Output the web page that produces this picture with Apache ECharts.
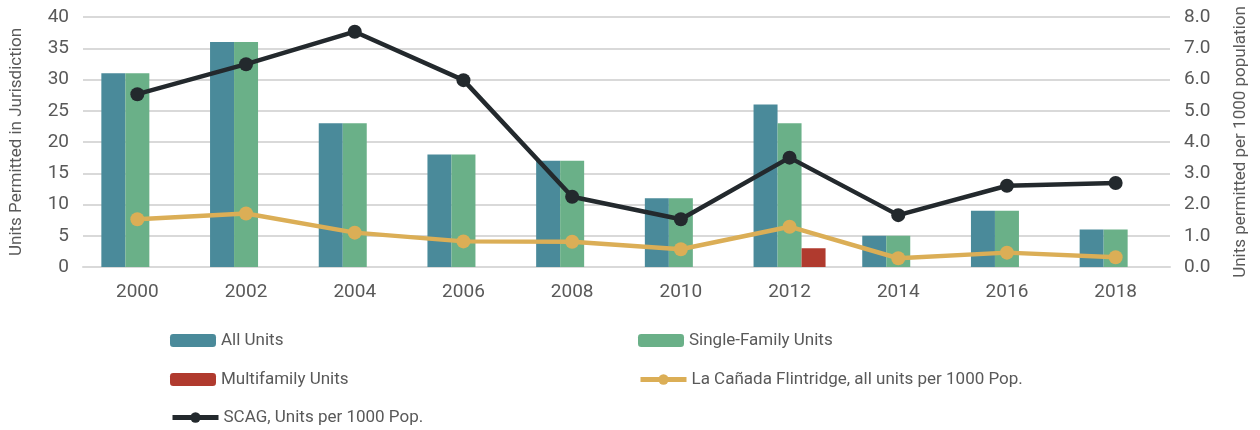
<!DOCTYPE html>
<html>
<head>
<meta charset="utf-8">
<script src="https://cdn.jsdelivr.net/npm/echarts@6/dist/echarts.min.js"></script>
<style>
  html, body { margin: 0; padding: 0; background: #fff; }
  #chart { width: 1260px; height: 430px; }
</style>
</head>
<body>
<div id="chart"></div>
<script>
var years = ['2000', '2002', '2004', '2006', '2008', '2010', '2012', '2014', '2016', '2018'];
var allUnits = [31, 36, 23, 18, 17, 11, 26, 5, 9, 6];
var singleFamily = [31, 36, 23, 18, 17, 11, 23, 5, 9, 6];
var multiFamily = [0, 0, 0, 0, 0, 0, 3, 0, 0, 0];
var lcfPer1000 = [1.53, 1.71, 1.10, 0.82, 0.81, 0.57, 1.29, 0.28, 0.46, 0.31];
var scagPer1000 = [5.53, 6.49, 7.53, 5.98, 2.25, 1.53, 3.50, 1.66, 2.60, 2.69];

var txt = '#595959';
var font = 'Roboto';

// one legend per entry so each sits where the reference has it
function legendAt(name, left, top) {
    return {
        left: left, top: top,
        itemWidth: 46, itemHeight: 13, itemGap: 4,
        textStyle: { fontSize: 17, color: txt, fontFamily: font },
        lineStyle: { width: 5 },
        data: [name]
    };
}

var chart = echarts.init(document.getElementById('chart'));
chart.setOption({
    animation: false,
    textStyle: { fontFamily: font, color: txt },
    grid: { left: 80, right: 90, top: 17, bottom: 163 },
    legend: [
        legendAt('All Units', 165, 327),
        legendAt('Single-Family Units', 633, 327),
        legendAt('Multifamily Units', 165, 366),
        legendAt('La Cañada Flintridge, all units per 1000 Pop.', 633, 366),
        legendAt('SCAG, Units per 1000 Pop.', 165, 404)
    ],
    xAxis: {
        type: 'category',
        data: years,
        axisLine: { lineStyle: { color: '#d9d9d9', width: 2 } },
        axisTick: { show: false },
        axisLabel: { fontSize: 19, color: txt, margin: 16 }
    },
    yAxis: [
        {
            type: 'value', min: 0, max: 40, interval: 5,
            name: 'Units Permitted in Jurisdiction',
            nameLocation: 'middle', nameGap: 58,
            nameTextStyle: { fontSize: 17, color: txt },
            axisLabel: { fontSize: 19, color: txt, margin: 14 },
            splitLine: { lineStyle: { color: '#d9d9d9', width: 2 } }
        },
        {
            type: 'value', min: 0, max: 8, interval: 1,
            name: 'Units permitted per 1000 population',
            nameLocation: 'middle', nameGap: 62,
            nameTextStyle: { fontSize: 17, color: txt },
            axisLabel: { fontSize: 19, color: txt, margin: 14,
                formatter: function (v) { return v.toFixed(1); } },
            splitLine: { show: false }
        }
    ],
    series: [
        {
            name: 'All Units', type: 'bar', data: allUnits,
            barWidth: 24, barGap: '0%',
            itemStyle: { color: '#4a8a9a' }
        },
        {
            name: 'Single-Family Units', type: 'bar', data: singleFamily,
            barWidth: 24, barGap: '0%',
            itemStyle: { color: '#6ab088' }
        },
        {
            name: 'Multifamily Units', type: 'bar', data: multiFamily,
            barWidth: 24, barGap: '0%',
            itemStyle: { color: '#b03a2e' }
        },
        {
            name: 'La Cañada Flintridge, all units per 1000 Pop.', type: 'line',
            yAxisIndex: 1, data: lcfPer1000,
            symbol: 'circle', symbolSize: 14,
            lineStyle: { color: '#dbae56', width: 4.5 },
            itemStyle: { color: '#dbae56' }
        },
        {
            name: 'SCAG, Units per 1000 Pop.', type: 'line',
            yAxisIndex: 1, data: scagPer1000,
            symbol: 'circle', symbolSize: 14,
            lineStyle: { color: '#23292d', width: 4.5 },
            itemStyle: { color: '#23292d' }
        }
    ]
});
</script>
</body>
</html>
